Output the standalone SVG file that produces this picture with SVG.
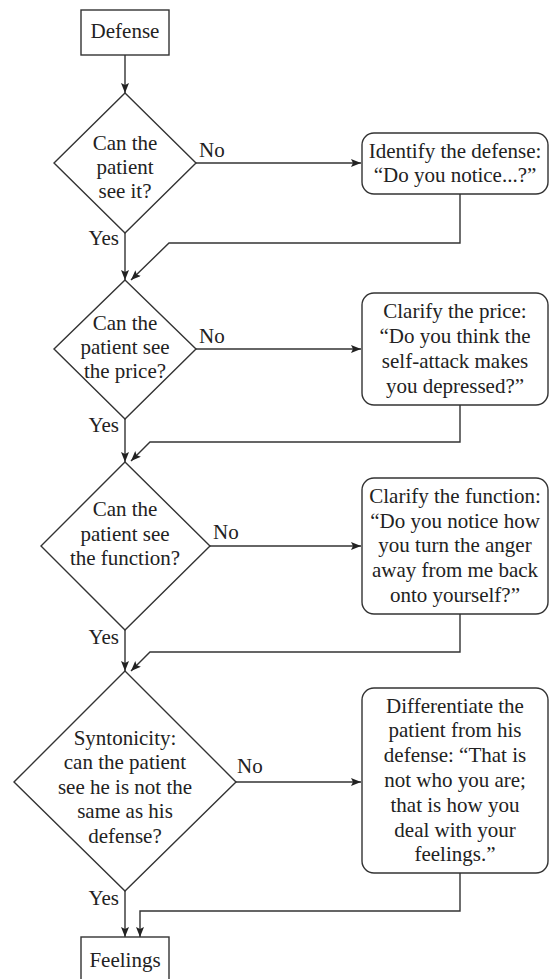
<svg xmlns="http://www.w3.org/2000/svg" width="550" height="979" viewBox="0 0 550 979">
<defs>
<style>
.shape{fill:#fff;stroke:#333;stroke-width:1.4}
.line{fill:none;stroke:#333;stroke-width:1.4}
text{font-family:"Liberation Serif","Times New Roman",serif;font-size:21px;fill:#222}
.c{text-anchor:middle}
.e{text-anchor:end}
</style>
<marker id="ah" markerUnits="userSpaceOnUse" markerWidth="12" markerHeight="10" refX="10" refY="4" orient="auto">
<path d="M0,0 L10,4 L0,8 L2,4 z" fill="#222"/>
</marker>
</defs>
<rect width="550" height="979" fill="#fff"/>
<g id="connectors">
<line class="line" x1="125" y1="55" x2="125" y2="93" marker-end="url(#ah)"/>
<line class="line" x1="125" y1="233" x2="125" y2="280" marker-end="url(#ah)"/>
<line class="line" x1="125" y1="419" x2="125" y2="462" marker-end="url(#ah)"/>
<line class="line" x1="125" y1="630" x2="125" y2="671" marker-end="url(#ah)"/>
<line class="line" x1="125" y1="891" x2="125" y2="937" marker-end="url(#ah)"/>
<line class="line" x1="196" y1="163" x2="361" y2="163" marker-end="url(#ah)"/>
<line class="line" x1="196" y1="349" x2="361" y2="349" marker-end="url(#ah)"/>
<line class="line" x1="210" y1="546" x2="361" y2="546" marker-end="url(#ah)"/>
<line class="line" x1="236" y1="782" x2="361" y2="782" marker-end="url(#ah)"/>
<polyline class="line" points="460,194 460,243 169,243 131,280" marker-end="url(#ah)"/>
<polyline class="line" points="460,405 460,442 150,442 131,461" marker-end="url(#ah)"/>
<polyline class="line" points="460,614 460,652 150,652 131,671" marker-end="url(#ah)"/>
<polyline class="line" points="460,873 460,911 140,911 140,937" marker-end="url(#ah)"/>
<text x="199" y="157">No</text>
<text x="199" y="343">No</text>
<text x="213" y="539">No</text>
<text x="237" y="773">No</text>
<text class="e" x="119" y="245">Yes</text>
<text class="e" x="119" y="432">Yes</text>
<text class="e" x="119" y="644">Yes</text>
<text class="e" x="119" y="905">Yes</text>
</g>
<g id="defense">
<rect class="shape" x="81" y="10" width="88" height="45"/>
<text class="c" x="125" y="38">Defense</text>
</g>
<g id="q1">
<polygon class="shape" points="125,93 196,163 125,233 54,163"/>
<text class="c" x="125" y="150">Can the</text>
<text class="c" x="125" y="174">patient</text>
<text class="c" x="125" y="198">see it?</text>
</g>
<g id="a1">
<rect class="shape" x="362" y="133" width="186" height="61" rx="12"/>
<text class="c" x="455" y="158">Identify the defense:</text>
<text class="c" x="455" y="182">“Do you notice...?”</text>
</g>
<g id="q2">
<polygon class="shape" points="125,280 196,349 125,419 54,349"/>
<text class="c" x="125" y="330">Can the</text>
<text class="c" x="125" y="354">patient see</text>
<text class="c" x="125" y="378">the price?</text>
</g>
<g id="a2">
<rect class="shape" x="362" y="293" width="186" height="112" rx="12"/>
<text class="c" x="455" y="318">Clarify the price:</text>
<text class="c" x="455" y="343">“Do you think the</text>
<text class="c" x="455" y="368">self-attack makes</text>
<text class="c" x="455" y="393">you depressed?”</text>
</g>
<g id="q3">
<polygon class="shape" points="125,462 210,546 125,630 41,546"/>
<text class="c" x="125" y="516">Can the</text>
<text class="c" x="125" y="541">patient see</text>
<text class="c" x="125" y="565">the function?</text>
</g>
<g id="a3">
<rect class="shape" x="362" y="478" width="186" height="136" rx="12"/>
<text class="c" x="455" y="503">Clarify the function:</text>
<text class="c" x="455" y="528">“Do you notice how</text>
<text class="c" x="455" y="552">you turn the anger</text>
<text class="c" x="455" y="577">away from me back</text>
<text class="c" x="455" y="602">onto yourself?”</text>
</g>
<g id="q4">
<polygon class="shape" points="125,671 236,782 125,891 14,782"/>
<text class="c" x="125" y="745">Syntonicity:</text>
<text class="c" x="125" y="769">can the patient</text>
<text class="c" x="125" y="794">see he is not the</text>
<text class="c" x="125" y="818">same as his</text>
<text class="c" x="125" y="843">defense?</text>
</g>
<g id="a4">
<rect class="shape" x="362" y="688" width="186" height="185" rx="12"/>
<text class="c" x="455" y="713">Differentiate the</text>
<text class="c" x="455" y="737">patient from his</text>
<text class="c" x="455" y="762">defense: “That is</text>
<text class="c" x="455" y="787">not who you are;</text>
<text class="c" x="455" y="812">that is how you</text>
<text class="c" x="455" y="837">deal with your</text>
<text class="c" x="455" y="861">feelings.”</text>
</g>
<g id="feelings">
<rect class="shape" x="81" y="937" width="88" height="50"/>
<text class="c" x="125" y="967">Feelings</text>
</g>
</svg>
